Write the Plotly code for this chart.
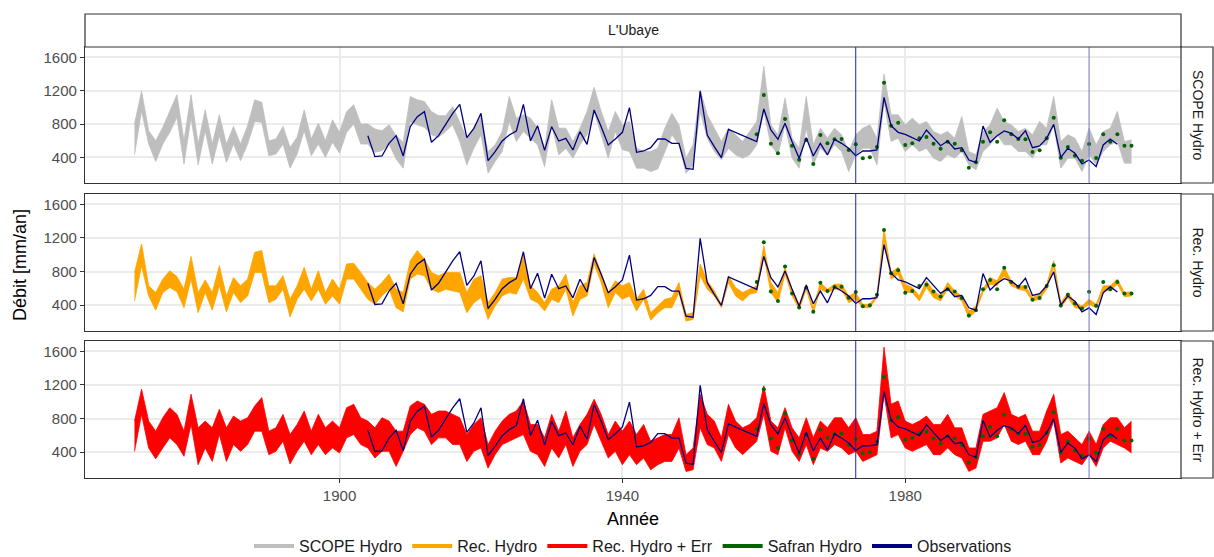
import plotly.graph_objects as go

years = list(range(1871, 2013))

scope_lo = [430,960,560,350,560,700,880,320,880,310,720,320,660,340,560,360,560,830,820,420,
            440,560,270,440,720,420,560,400,580,450,700,800,560,560,460,480,560,380,270,830,
            790,760,670,640,710,790,590,310,510,670,210,350,470,830,590,710,630,550,290,790,
            430,510,390,550,670,950,670,390,710,490,470,270,270,230,260,470,670,550,210,310,
            950,630,470,370,510,430,390,430,550,950,550,430,790,390,270,750,310,510,430,550,
            470,230,430,510,510,310,1070,590,630,470,550,470,510,390,350,430,390,470,310,250,
            470,550,670,550,550,470,470,390,550,550,790,270,390,390,230,430,310,470,550,590,
            330,330]
scope_hi = [800,1195,720,600,760,950,1150,600,1150,560,970,560,910,560,770,560,780,1090,1060,600,
            620,770,520,640,970,620,810,600,850,700,950,1030,800,800,740,720,790,660,580,1130,
            1090,1070,950,900,900,1010,830,630,750,890,470,550,710,1130,870,910,870,750,510,1090,
            750,750,590,750,950,1240,950,710,950,790,830,510,470,470,510,750,930,790,390,550,
            1210,910,750,590,750,670,590,710,830,1490,790,670,1110,630,510,1130,550,750,630,750,
            670,470,670,750,790,630,1400,910,910,790,870,790,830,710,670,710,630,890,470,430,
            710,790,990,830,790,710,750,670,830,750,1130,590,670,630,470,750,550,710,750,950,
            590,610]

rec_lo = [450,870,510,340,550,610,560,370,710,310,550,340,630,320,550,430,510,790,790,430,
          470,590,260,470,590,450,590,410,510,410,710,710,590,470,410,510,590,370,320,710,
          770,750,590,550,590,570,550,310,430,490,230,390,510,550,530,710,470,430,330,470,
          430,590,270,470,510,890,670,370,550,470,510,330,470,220,310,370,370,550,210,230,
          750,590,510,370,670,510,450,530,550,990,550,430,770,510,350,590,310,590,550,590,
          590,430,470,370,370,490,1170,710,770,550,550,450,610,490,450,590,510,450,250,330,
          550,650,630,750,630,590,570,450,470,590,850,370,490,370,350,410,370,570,570,650,
          500,510]
rec_hi = [790,1130,630,550,710,810,740,590,980,550,700,550,870,510,730,630,710,1030,1050,630,
          630,750,470,630,850,590,810,550,710,590,890,900,790,670,590,670,770,590,550,930,
          1050,950,790,750,790,790,790,550,710,750,430,550,710,730,730,990,630,550,430,590,
          630,770,430,630,670,1010,790,550,690,630,670,470,590,310,390,470,490,670,290,310,
          890,690,570,410,750,610,550,590,630,1110,670,550,850,590,410,650,370,670,590,650,
          650,510,550,410,410,530,1310,790,850,650,610,510,690,570,510,670,570,510,330,390,
          590,730,690,850,690,630,630,490,530,650,930,430,550,430,390,470,410,630,630,710,
          550,560]

err_lo = [410,850,450,320,450,570,490,350,730,250,450,290,610,290,490,410,490,650,650,370,
          410,530,260,410,530,370,490,370,450,390,570,610,490,450,330,410,410,230,410,610,
          690,650,490,570,570,490,490,290,410,450,210,370,490,530,570,610,410,370,230,450,
          330,490,230,410,490,730,530,330,410,250,370,250,330,190,250,290,290,450,170,190,
          690,490,450,290,610,450,370,450,530,850,410,370,690,410,290,490,250,450,410,490,
          450,370,410,290,330,370,1090,570,610,450,410,450,490,370,370,450,370,330,170,210,
          530,530,570,730,530,490,530,370,370,530,770,270,330,290,250,370,230,450,530,490,
          450,390]
err_hi = [770,1150,770,650,810,930,850,650,1090,690,770,690,910,690,830,770,810,950,1050,650,
          690,850,610,730,890,650,850,690,770,690,930,970,810,770,690,810,770,650,650,950,
          1010,970,850,890,890,850,810,610,730,810,490,650,770,850,890,1010,730,730,570,850,
          650,890,570,730,850,1030,850,610,770,650,770,610,730,530,570,610,610,810,370,450,
          1090,850,770,570,970,770,690,730,810,1190,770,690,930,690,570,810,570,770,690,810,
          810,690,810,610,610,650,1650,970,1010,770,730,770,830,730,730,850,690,690,450,450,
          850,890,930,1110,850,810,850,650,650,890,1090,610,650,570,490,650,490,730,810,810,
          690,770]

obs_years = list(range(1904, 2011))
obs = [660,408,416,568,660,416,768,888,948,580,660,788,928,1036,636,748,928,360,468,596,
       668,716,1036,596,780,484,768,596,628,488,708,556,968,768,548,620,700,996,460,476,
       516,620,620,568,568,268,256,1196,668,528,396,736,None,None,None,588,980,728,616,808,
       588,388,636,416,568,428,616,568,508,420,476,476,488,1120,780,700,676,636,596,728,
       628,540,596,500,516,368,340,776,580,660,716,688,620,720,516,536,628,796,400,508,
       448,320,368,288,548,620,556]

safran_years = list(range(1959, 2013))
safran = [676,1148,564,448,860,540,372,608,320,668,568,616,620,488,556,388,400,524,1296,780,
          816,548,568,628,644,564,504,588,564,484,276,340,588,700,588,844,676,620,616,464,
          484,628,876,396,524,420,360,560,392,676,588,676,540,540]

vline_years = [1973, 2006]
panel_names = ["SCOPE Hydro", "Rec. Hydro", "Rec. Hydro + Err"]
station = "L'Ubaye"
y_ticks = [400, 800, 1200, 1600]
x_ticks = [1900, 1940, 1980]

C_GREY = "#BEBEBE"
C_ORANGE = "#FFA500"
C_RED = "#FF0000"
C_GREEN = "#006400"
C_NAVY = "#000080"

fig = go.Figure()

bands = [(scope_lo, scope_hi, C_GREY), (rec_lo, rec_hi, C_ORANGE), (err_lo, err_hi, C_RED)]
for i, (lo, hi, col) in enumerate(bands):
    xa = "x" if i == 0 else f"x{i+1}"
    ya = "y" if i == 0 else f"y{i+1}"
    fig.add_trace(go.Scatter(x=years, y=lo, mode="lines", line=dict(color=col, width=0.8),
                             xaxis=xa, yaxis=ya, showlegend=False, hoverinfo="skip"))
    fig.add_trace(go.Scatter(x=years, y=hi, mode="lines", line=dict(color=col, width=0.8),
                             fill="tonexty", fillcolor=col,
                             xaxis=xa, yaxis=ya, showlegend=False, hoverinfo="skip"))
    fig.add_trace(go.Scatter(x=safran_years, y=safran, mode="markers",
                             marker=dict(color=C_GREEN, size=4),
                             xaxis=xa, yaxis=ya, showlegend=False, hoverinfo="skip"))
    fig.add_trace(go.Scatter(x=obs_years, y=obs, mode="lines", connectgaps=True,
                             line=dict(color=C_NAVY, width=1.3),
                             xaxis=xa, yaxis=ya, showlegend=False, hoverinfo="skip"))

for name, col in [("SCOPE Hydro", C_GREY), ("Rec. Hydro", C_ORANGE), ("Rec. Hydro + Err", C_RED),
                  ("Safran Hydro", C_GREEN), ("Observations", C_NAVY)]:
    fig.add_trace(go.Scatter(x=[None], y=[None], mode="lines", name=name,
                             line=dict(color=col, width=4), xaxis="x3", yaxis="y3"))

H = 431.0
def py(ypix):
    return (478 - ypix) / H
def px(xpix):
    return (xpix - 85) / 1096.0

domains = [[py(183), 1.0], [py(331), py(194)], [0.0, py(341)]]
xrange_ = [1864.0, 2019.0]
yrange_ = [92, 1724]

axis_common = dict(showgrid=True, gridcolor="#EBEBEB", gridwidth=1.8, zeroline=False,
                   showline=True, linecolor="#333333", linewidth=1.2, mirror=True,
                   tickfont=dict(family="Liberation Sans, Arial", size=15, color="#4D4D4D"))

layout = dict(
    width=1214, height=557,
    margin=dict(l=85, r=33, t=47, b=79, autoexpand=False),
    plot_bgcolor="white", paper_bgcolor="white",
    font=dict(family="Liberation Sans, Arial", color="#1A1A1A"),
    showlegend=True,
    legend=dict(orientation="h", x=0.5, xanchor="center", y=py(546), yanchor="middle",
                font=dict(size=16, color="#1A1A1A"), bgcolor="rgba(0,0,0,0)",
                traceorder="normal", itemwidth=40, tracegroupgap=0),
)
for i in range(3):
    xk = "xaxis" if i == 0 else f"xaxis{i+1}"
    yk = "yaxis" if i == 0 else f"yaxis{i+1}"
    ya = "y" if i == 0 else f"y{i+1}"
    xa = "x" if i == 0 else f"x{i+1}"
    last = (i == 2)
    layout[xk] = dict(axis_common, domain=[0, 1], anchor=ya, range=xrange_,
                      tickvals=x_ticks, showticklabels=last,
                      ticks="outside" if last else "", ticklen=4, tickcolor="#333333")
    if i > 0:
        layout[xk]["matches"] = "x"
    layout[yk] = dict(axis_common, domain=domains[i], anchor=xa, range=yrange_,
                      tickvals=y_ticks, ticks="outside", ticklen=4, tickcolor="#333333")
fig.update_layout(**layout)

shapes = []
annotations = []
vcols = ["#2020B0", "#7070C8"]
for i in range(3):
    xa = "x" if i == 0 else f"x{i+1}"
    ya = "y" if i == 0 else f"y{i+1}"
    for vy, vc in zip(vline_years, vcols):
        shapes.append(dict(type="line", xref=xa, yref=f"{ya} domain", x0=vy, x1=vy, y0=0, y1=1,
                           line=dict(color=vc, width=1), layer="above"))
shapes.append(dict(type="rect", xref="paper", yref="paper", x0=0, x1=1, y0=1.0, y1=py(14),
                   line=dict(color="#333333", width=1.2), fillcolor="white", layer="above"))
annotations.append(dict(text=station, xref="paper", yref="paper", x=0.5, y=py(30),
                        showarrow=False, font=dict(size=14, color="#1A1A1A"),
                        xanchor="center", yanchor="middle"))
for i, nm in enumerate(panel_names):
    d = domains[i]
    shapes.append(dict(type="rect", xref="paper", yref="paper", x0=1.0, x1=px(1213),
                       y0=d[0], y1=d[1], line=dict(color="#333333", width=1.2),
                       fillcolor="white", layer="above"))
    annotations.append(dict(text=nm, xref="paper", yref="paper", x=px(1198),
                            y=(d[0] + d[1]) / 2, showarrow=False, textangle=90,
                            font=dict(size=14, color="#1A1A1A"),
                            xanchor="center", yanchor="middle"))
annotations.append(dict(text="Débit [mm/an]", xref="paper", yref="paper", x=px(20), y=py(265),
                        showarrow=False, textangle=-90, font=dict(size=18, color="black"),
                        xanchor="center", yanchor="middle"))
annotations.append(dict(text="Année", xref="paper", yref="paper", x=0.5, y=py(519),
                        showarrow=False, font=dict(size=18, color="black"),
                        xanchor="center", yanchor="middle"))
fig.update_layout(shapes=shapes, annotations=annotations)

fig.write_html("out.html", config={"displayModeBar": False},
               post_script="document.body.style.margin='0';document.body.style.padding='0';")
